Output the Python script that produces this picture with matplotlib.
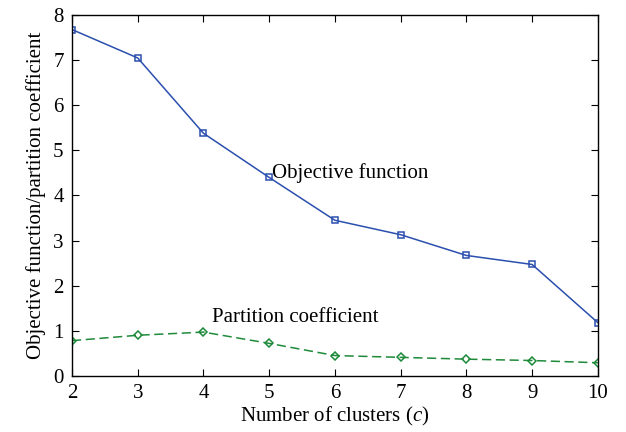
import numpy as np
import matplotlib.pyplot as plt

plt.rcParams['font.family'] = ['Liberation Serif', 'DejaVu Serif']
plt.rcParams['mathtext.fontset'] = 'custom'
plt.rcParams['mathtext.it'] = 'Liberation Serif:italic'
plt.rcParams['mathtext.rm'] = 'Liberation Serif'

clusters = [2, 3, 4, 5, 6, 7, 8, 9, 10]
objective = [7.68, 7.05, 5.38, 4.40, 3.45, 3.13, 2.67, 2.47, 1.18]
partition = [0.78, 0.90, 0.97, 0.72, 0.45, 0.41, 0.37, 0.34, 0.29]

fig = plt.figure(figsize=(6.26, 4.32), dpi=100)
ax = fig.add_axes([0.115, 0.13, 0.840, 0.835])

ax.plot(clusters, objective, color='#2b4fae', lw=1.1, marker='s', markersize=5,
        markerfacecolor='none', markeredgecolor='#2b4fae', markeredgewidth=1.1)
ax.plot(clusters, partition, color='#1e8a3a', lw=1.1, ls=(0, (6, 3)), marker='D', markersize=4,
        markerfacecolor='none', markeredgecolor='#1e8a3a', markeredgewidth=1.1)

ax.text(5.05, 4.5, 'Objective function', fontsize=15, va='center', ha='left')
ax.text(4.13, 1.3, 'Partition coefficient', fontsize=15, va='center', ha='left')

ax.set_xlim(2, 10)
ax.set_ylim(0, 8)
ax.set_xticks(np.arange(2, 11, 1))
ax.set_yticks(np.arange(0, 9, 1))
ax.tick_params(direction='in', top=True, right=True, labelsize=15, length=5, pad=6)
for s in ax.spines.values():
    s.set_linewidth(1.0)

ax.set_xlabel('Number of clusters ($c$)', fontsize=15, labelpad=1)
ax.set_ylabel('Objective function/partition coefficient', fontsize=15, labelpad=5)

plt.savefig('out.png', dpi=100)
